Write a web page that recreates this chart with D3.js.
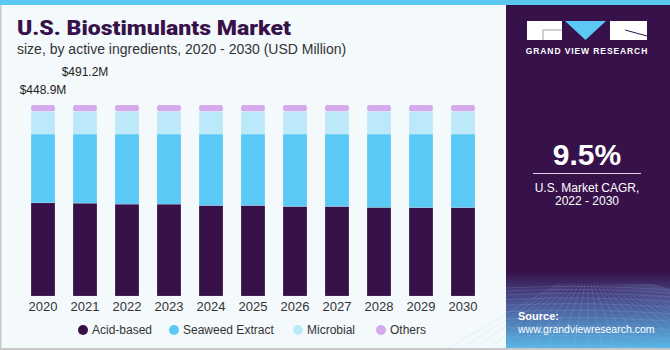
<!DOCTYPE html>
<html>
<head>
<meta charset="utf-8">
<script src="https://cdn.jsdelivr.net/npm/d3@7"></script>
<style>
  body { margin: 0; background: #fff; }
  svg { display: block; font-family: "Liberation Sans", Arial, sans-serif; }
</style>
</head>
<body>
<svg id="graf" width="670" height="350"></svg>
<script>
// datos (participación % por año)
years      = ['2020','2021','2022','2023','2024','2025','2026','2027','2028','2029','2030']
acid       = [48.8, 48.6, 48.1, 48.1, 47.4, 47.4, 46.9, 46.9, 46.4, 46.3, 46.3]
seaweed    = [36.0, 36.2, 36.7, 36.7, 37.4, 37.4, 37.9, 37.9, 38.4, 38.5, 38.5]
microbial  = [11.9, 11.9, 11.9, 11.9, 11.9, 11.9, 11.9, 11.9, 11.9, 11.9, 11.9]
others     = [3.3, 3.3, 3.3, 3.3, 3.3, 3.3, 3.3, 3.3, 3.3, 3.3, 3.3]
series     = ['Acid-based', 'Seaweed Extract', 'Microbial', 'Others']
valueLabels = [{ year: '2020', text: '$448.9M', dy: 11 }, { year: '2021', text: '$491.2M', dy: 29 }]

svg = d3.select('#graf')

// fondo
svg.append('rect').attr('width', 670).attr('height', 350).attr('fill', '#f4f9fc')
svg.append('rect').attr('x', 0).attr('y', 0).attr('width', 1.5).attr('height', 350).attr('fill', '#c8c8c8')
svg.append('rect').attr('x', 0).attr('y', 348).attr('width', 670).attr('height', 2).attr('fill', '#c8c8c8')
svg.append('rect').attr('x', 0).attr('y', 0).attr('width', 670).attr('height', 5).attr('fill', '#5bc8f2')

// titulos
svg.append('text').attr('x', 17).attr('y', 35)
   .attr('font-size', 21).attr('font-weight', 900)
   .attr('font-family', 'Roboto, "Liberation Sans", sans-serif')
   .attr('fill', '#37124a').attr('textLength', 274).attr('lengthAdjust', 'spacingAndGlyphs')
   .text('U.S. Biostimulants Market')
svg.append('text').attr('x', 17).attr('y', 54)
   .attr('font-size', 14).attr('fill', '#333')
   .text('size, by active ingredients, 2020 - 2030 (USD Million)')

// escaladores
x = d3.scaleBand().domain(years).range([22, 484]).paddingInner(0.43).paddingOuter(0.215)
y = d3.scaleLinear().domain([0, 100]).range([296, 105])
color = d3.scaleOrdinal().domain(series).range(['#371047', '#5bc9f5', '#bce9fa', '#d5a9ec'])

table = years.map((yr, i) => ({
  year: yr,
  'Acid-based': acid[i],
  'Seaweed Extract': seaweed[i],
  'Microbial': microbial[i],
  'Others': others[i]
}))
stack = d3.stack().keys(series)(table)

g = svg.append('g')
stack.forEach(layer => {
  g.selectAll(null).data(layer).join('rect')
    .attr('x', d => x(d.data.year))
    .attr('y', d => y(d[1]))
    .attr('width', x.bandwidth())
    .attr('height', d => y(d[0]) - y(d[1]))
    .attr('rx', layer.key === 'Others' ? 2 : 0)
    .attr('fill', color(layer.key))
    .attr('stroke', '#ffffff').attr('stroke-opacity', 0.25).attr('stroke-width', 0.6)
})

// eje x
xAxis = svg.append('g').attr('transform', 'translate(0, 296)')
  .call(d3.axisBottom(x).tickSize(0).tickPadding(6))
xAxis.select('.domain').remove()
xAxis.selectAll('text').attr('font-size', 13).attr('fill', '#333')
     .attr('font-family', '"Liberation Sans", Arial, sans-serif')

// etiquetas de valor
svg.selectAll(null).data(valueLabels).join('text')
  .attr('x', d => x(d.year) + x.bandwidth() / 2)
  .attr('y', d => y(100) - d.dy)
  .attr('text-anchor', 'middle').attr('font-size', 12).attr('fill', '#222')
  .text(d => d.text)

// leyenda
legendX = [83, 174, 298, 381]
leg = svg.selectAll(null).data(series).join('g')
  .attr('transform', (d, i) => `translate(${legendX[i]}, 330)`)
leg.append('circle').attr('r', 5).attr('fill', d => color(d))
leg.append('text').attr('x', 9).attr('dy', '0.35em').attr('font-size', 12).attr('fill', '#333').text(d => d)

// panel derecho
defs = svg.append('defs')
grad = defs.append('linearGradient').attr('id', 'pg').attr('x1', 0).attr('y1', 0).attr('x2', 0).attr('y2', 1)
grad.append('stop').attr('offset', '0%').attr('stop-color', '#37124a')
grad.append('stop').attr('offset', '78%').attr('stop-color', '#37124a')
grad.append('stop').attr('offset', '86%').attr('stop-color', '#4a4f8e')
grad.append('stop').attr('offset', '100%').attr('stop-color', '#58b6e6')

px = 506
svg.append('rect').attr('x', px).attr('y', 5).attr('width', 670 - px).attr('height', 343).attr('fill', 'url(#pg)')

// rejilla decorativa
grid = svg.append('g').attr('stroke', '#9fc4ee').attr('stroke-opacity', 0.3).attr('stroke-width', 0.6).attr('fill', 'none')
d3.range(0, 12).forEach(i => {
  yy = 288 + i * i * 0.45 + i * 2.5
  grid.append('path').attr('d', `M${px},${yy} Q588,${yy - 4} 670,${yy + 2}`)
})
d3.range(-10, 22).forEach(i => {
  grid.append('line').attr('x1', 588 + i * 3).attr('y1', 284).attr('x2', 588 + i * 14).attr('y2', 348)
})

// logo
logo = svg.append('g')
logo.append('rect').attr('x', 527).attr('y', 21).attr('width', 35).attr('height', 19).attr('fill', '#fff')
logo.append('line').attr('x1', 543).attr('y1', 30).attr('x2', 562).attr('y2', 30).attr('stroke', '#888').attr('stroke-width', 0.8)
logo.append('line').attr('x1', 543).attr('y1', 30).attr('x2', 543).attr('y2', 40).attr('stroke', '#888').attr('stroke-width', 0.8)
logo.append('path').attr('d', 'M565,21 L606,21 L585.5,40 Z').attr('fill', '#5bc8f5')
logo.append('rect').attr('x', 610).attr('y', 21).attr('width', 37).attr('height', 19).attr('fill', '#fff')
logo.append('line').attr('x1', 625).attr('y1', 30).attr('x2', 647).attr('y2', 36).attr('stroke', '#37124a').attr('stroke-width', 1)
logo.append('text').attr('x', 587).attr('y', 54).attr('text-anchor', 'middle')
  .attr('font-size', 8.5).attr('font-weight', 'bold').attr('fill', '#fff').attr('letter-spacing', 0.9)
  .text('GRAND VIEW RESEARCH')

svg.append('text').attr('x', 587).attr('y', 165).attr('text-anchor', 'middle')
  .attr('font-size', 30).attr('font-weight', 'bold').attr('fill', '#fff').text('9.5%')
svg.append('line').attr('x1', 533).attr('x2', 641).attr('y1', 173.5).attr('y2', 173.5).attr('stroke', '#d8d0e0').attr('stroke-width', 1)
svg.append('text').attr('x', 587).attr('y', 192).attr('text-anchor', 'middle')
  .attr('font-size', 12).attr('fill', '#fff').text('U.S. Market CAGR,')
svg.append('text').attr('x', 587).attr('y', 205).attr('text-anchor', 'middle')
  .attr('font-size', 12).attr('fill', '#fff').text('2022 - 2030')

svg.append('text').attr('x', 518).attr('y', 320).attr('font-size', 11).attr('font-weight', 'bold').attr('fill', '#fff').text('Source:')
svg.append('text').attr('x', 518).attr('y', 333).attr('font-size', 10.5).attr('fill', '#fff').text('www.grandviewresearch.com')
</script>
</body>
</html>
